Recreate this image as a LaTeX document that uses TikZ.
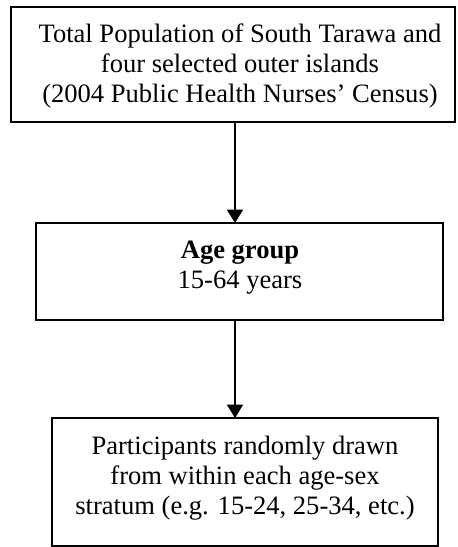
\documentclass[tikz,border=0pt]{standalone}
\usepackage{fontspec}
\setmainfont{Liberation Serif}
\usetikzlibrary{arrows.meta}
\tikzset{
  boxnode/.style={draw=black, line width=1pt, rectangle, inner sep=0pt, outer sep=0pt},
  txt/.style={align=center, inner sep=0pt, font=\fontsize{12.35}{13.9}\selectfont},
  arr/.style={line width=0.75pt, -{Triangle[width=7.4pt,length=6.2pt]}}
}
\begin{document}
\begin{tikzpicture}[x=0.465pt, y=-0.465pt]
\useasboundingbox (0,0) rectangle (457,547);
\node[boxnode, minimum width=206.5pt, minimum height=53.5pt] (b1) at (233,64.5) {};
\node[boxnode, minimum width=189.3pt, minimum height=45.1pt] (b2) at (239.5,271.5) {};
\node[boxnode, minimum width=179.5pt, minimum height=59.5pt] (b3) at (245,482) {};
\node[txt] (t1) at (240,66) {Total Population of South Tarawa and\\four selected outer islands\\(2004 Public Health Nurses’ Census)};
\node[txt] (t2) at (240,268) {\textbf{Age group}\\15-64 years};
\node[txt] (t3) at (245,478) {Participants randomly drawn\\from within each age-sex\\stratum (e.g. 15-24, 25-34, etc.)};
\coordinate (ax) at (235,0);
\draw[arr] (b1.south -| ax) -- (b2.north -| ax);
\draw[arr] (b2.south -| ax) -- (b3.north -| ax);
\end{tikzpicture}
\end{document}
